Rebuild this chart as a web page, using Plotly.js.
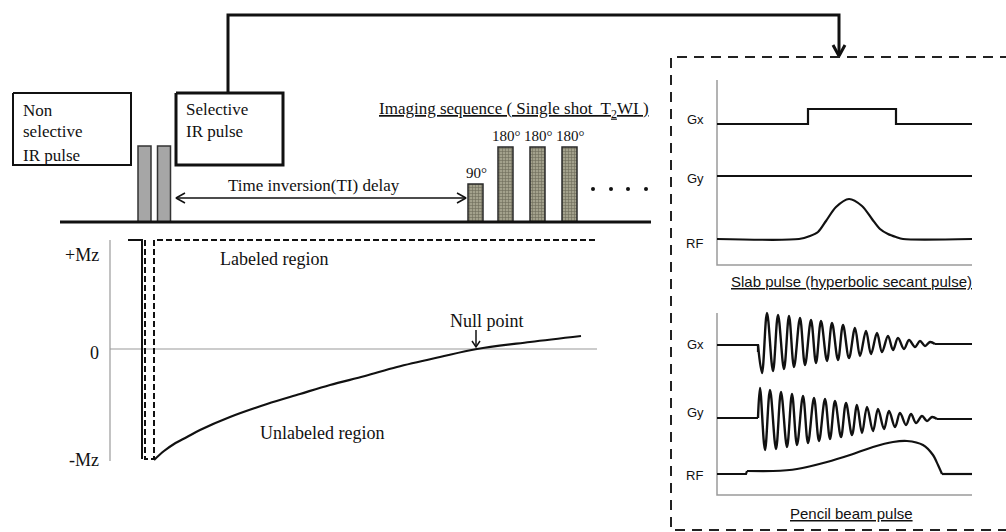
<!DOCTYPE html>
<html><head><meta charset="utf-8">
<script src="https://cdn.plot.ly/plotly-3.0.1.min.js"></script>
<style>html,body{margin:0;padding:0;background:#fff}#chart{width:1006px;height:532px}</style>
</head><body><div id="chart"></div>
<script>
// ---------- pulse sequence (top left) ----------
const irPulseX = [144.5, 164];
const irPulseHeight = [76, 76];
const imagingPulseX = [475.5, 505.5, 537.5, 569.5];
const imagingPulseHeight = [38, 75, 75, 75];
const imagingPulseLabels = ['90°', '180°', '180°', '180°'];
const sequenceBaseY = 222;
const continuationDotsX = [593, 611, 628, 646];
const boxLabelsNonSelective = ['Non', 'selective', 'IR pulse'];
const boxLabelsSelective = ['Selective', 'IR pulse'];

// ---------- longitudinal magnetisation ----------
const mzTickLabels = ['+Mz', '0', '-Mz'];
const mzTickY = [255, 353, 460];
const unlabeledCurveX = [154,164,174,187,200,230,267,300,330,365,397,440,477,530,581];
const unlabeledCurveY = [460,451,444,437,430,417,404,394,385,376,367,357,349,342,336];
const nonSelectiveX = [128,142,142];
const nonSelectiveY = [240,240,459];
const labeledX = [145,145,154,154,597];
const labeledY = [240,459,459,240,240];

// ---------- slab pulse (hyperbolic secant) ----------
const slabGxX = [717,808,808,896,896,972];
const slabGxY = [124,124,109,109,124,124];
const slabGyX = [717,972];
const slabGyY = [176,176];
const slabRfX = [717,799,810,818,826,836,849,862,872,880,888,896,903,972];
const slabRfY = [239,239,236,232,221,207,199,206,219,229,234,237,239,239];

// ---------- pencil beam pulse ----------
const pencilGxX = [758,762,767,773,778,784,789,794,800,805,811,816,821,827,832,838,843,849,855,860,866,871,877,882,888,893,898,904,909,915,920,925,930,935];
const pencilGxY = [345,373,313,371,315,369,316,367,318,365,320,363,321,361,323,360,325,358,328,356,331,354,333,352,336,350,338,349,340,347,341,346,342,344];
const pencilGyX = [758,760,765,770,776,781,787,792,797,803,808,814,819,825,830,835,841,846,852,857,862,867,873,878,884,889,895,900,906,911,916,922,927,932,937];
const pencilGyY = [418,388,450,390,449,392,447,394,445,396,443,398,441,399,439,401,437,403,435,405,433,407,431,409,429,411,427,413,425,414,423,416,421,417,419];
const pencilRfX = [747,773,797,827,850,873,893,907,923,933,938,942];
const pencilRfY = [471,471,469,462,455,447,442,441,445,455,465,474];

const SERIF = 'Liberation Serif, Times New Roman, serif';
const SANS = 'Liberation Sans, Arial, sans-serif';
const INK = '#111';
const GREY = '#9a9a9a';

const traces = [];
const anns = [];
function line(xs, ys, o) {
  o = o || {};
  traces.push({type:'scatter', mode:'lines', x:xs, y:ys, hoverinfo:'skip', showlegend:false, cliponaxis:false,
    line:{color:o.color||INK, width:o.width||2, dash:o.dash||'solid', shape:o.shape||'linear', smoothing:o.smoothing||1}});
}
function vhead(tx, ty, dx, dy, len, half, w) {
  const bx = tx - dx*len, by = ty - dy*len;
  const px = -dy, py = dx;
  line([bx+px*half, tx, bx-px*half], [by+py*half, ty, by-py*half], {width:w||2});
}
function rect(x0, y0, x1, y1, o) { line([x0,x1,x1,x0,x0],[y0,y0,y1,y1,y0], o); }
function txt(t, x, y, size, family, anchor, color) {
  anns.push({text:t, x:x, y:y, xref:'x', yref:'y', showarrow:false, xanchor:anchor||'center', yanchor:'middle',
    font:{size:size, family:family, color:color||INK}});
}

// ---------- top-left boxes & connector ----------
rect(13, 93, 131, 165, {width:2});
rect(176, 93, 283, 165, {width:3});
boxLabelsNonSelective.forEach((t,i)=>txt(t, 21, [110,131,155][i], 17, SERIF, 'left'));
boxLabelsSelective.forEach((t,i)=>txt(t, 184, [109,131][i], 17, SERIF, 'left'));
line([228,228,839,839],[93,15,15,55], {width:3});
vhead(839, 56, 0, 1, 11, 6, 3);

// ---------- sequence ----------
line([60,651],[sequenceBaseY,sequenceBaseY], {width:3});
traces.push({type:'bar', x:irPulseX, y:irPulseHeight.map(h=>-h), base:sequenceBaseY, width:13,
  marker:{color:'#a6a6a6', line:{color:'#333', width:1.5}}, hoverinfo:'skip', showlegend:false});
traces.push({type:'bar', x:imagingPulseX, y:imagingPulseHeight.map(h=>-h), base:sequenceBaseY, width:15,
  marker:{color:'#9a9882', pattern:{shape:'+', fgcolor:'#6e6c5a', bgcolor:'#a3a18c', size:3, solidity:0.35}, line:{color:'#2a2a2a', width:1.5}},
  hoverinfo:'skip', showlegend:false});
imagingPulseX.forEach((x,i)=>txt(imagingPulseLabels[i], x+1, sequenceBaseY-imagingPulseHeight[i]-11, 15, SERIF, 'center'));
traces.push({type:'scatter', mode:'markers', x:continuationDotsX, y:continuationDotsX.map(()=>189),
  marker:{color:INK, size:4}, hoverinfo:'skip', showlegend:false});
txt('<u>Imaging sequence ( Single shot  T<sub>2</sub>WI )</u>', 514, 110, 17, SERIF, 'center');
// TI arrow
line([176,466],[198,198], {width:1.5});
vhead(176, 198, -1, 0, 9, 5, 1.5);
vhead(466, 198, 1, 0, 9, 5, 1.5);
txt('Time inversion(TI) delay', 314, 185, 17, SERIF, 'center');

// ---------- Mz plot ----------
line([110,110],[240,461], {color:GREY, width:1.2});
line([110,597],[349,349], {color:GREY, width:1.2});
mzTickLabels.forEach((t,i)=>txt(t, 101, mzTickY[i], 18, SERIF, 'right'));
line(nonSelectiveX, nonSelectiveY, {width:2});
line(labeledX, labeledY, {width:2, dash:'6px,3px'});
line(unlabeledCurveX, unlabeledCurveY, {width:2.2, shape:'spline', smoothing:1});
txt('Labeled region', 218, 259, 18, SERIF, 'left');
txt('Unlabeled region', 258, 433, 18, SERIF, 'left');
txt('Null point', 487, 321, 18, SERIF, 'center');
line([476,476],[330,346], {width:1.5});
vhead(476, 347, 0, 1, 6, 4, 1.5);

// ---------- dashed panel ----------
line([1010,671,671,1010],[57,57,530,530], {width:2, dash:'10px,7px', color:'#222'});

// slab pulse
line([717,717,972],[80,265,265], {color:GREY, width:1.5});
line(slabGxX, slabGxY, {width:2.2});
line(slabGyX, slabGyY, {width:2.2});
line(slabRfX, slabRfY, {width:2.2, shape:'spline', smoothing:0.8});
txt('Gx', 695, 119, 13, SANS, 'center');
txt('Gy', 695, 178, 13, SANS, 'center');
txt('RF', 694, 243, 13, SANS, 'center');
txt('<u>Slab pulse (hyperbolic secant pulse)</u>', 851, 281, 15, SANS, 'center');

// pencil beam pulse
line([717,717,972],[313,495,495], {color:GREY, width:1.5});
line([717,758,758],[345,345,352], {width:2.2});
line(pencilGxX, pencilGxY, {width:2.4, shape:'spline', smoothing:1});
line([935,972],[344,344], {width:2.2});
line([717,758],[418,418], {width:2.2});
line(pencilGyX, pencilGyY, {width:2.4, shape:'spline', smoothing:1});
line([937,972],[419,419], {width:2.2});
line([717,746,747],[474,474,471], {width:2.2});
line(pencilRfX, pencilRfY, {width:2.2, shape:'spline', smoothing:0.8});
line([942,972],[474,474], {width:2.2});
txt('Gx', 695, 344, 13, SANS, 'center');
txt('Gy', 695, 412, 13, SANS, 'center');
txt('RF', 694, 475, 13, SANS, 'center');
txt('<u>Pencil beam pulse</u>', 851, 513, 15, SANS, 'center');

const layout = {
  width:1006, height:532, margin:{l:0,r:0,t:0,b:0}, paper_bgcolor:'#fff', plot_bgcolor:'#fff',
  xaxis:{range:[0,1006], visible:false, fixedrange:true},
  yaxis:{range:[532,0], visible:false, fixedrange:true},
  showlegend:false, barmode:'overlay', annotations:anns, hovermode:false
};
Plotly.newPlot('chart', traces, layout, {displayModeBar:false, staticPlot:true});
</script></body></html>
